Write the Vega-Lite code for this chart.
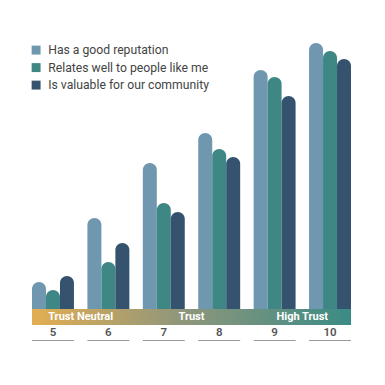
{
  "$schema": "https://vega.github.io/schema/vega-lite/v6.json",
  "autosize": {"type": "none"},
  "padding": {"left": 32, "top": 39, "right": 0, "bottom": 0},
  "width": 319,
  "height": 302,
  "background": "white",
  "config": {"view": {"stroke": null}, "font": "Roboto"},
  "datasets": {
    "bars": [
      {"score": "5", "series": "Has a good reputation", "value": 27},
      {"score": "5", "series": "Relates well to people like me", "value": 19},
      {"score": "5", "series": "Is valuable for our community", "value": 33},
      {"score": "6", "series": "Has a good reputation", "value": 91},
      {"score": "6", "series": "Relates well to people like me", "value": 47},
      {"score": "6", "series": "Is valuable for our community", "value": 66},
      {"score": "7", "series": "Has a good reputation", "value": 146},
      {"score": "7", "series": "Relates well to people like me", "value": 106},
      {"score": "7", "series": "Is valuable for our community", "value": 97},
      {"score": "8", "series": "Has a good reputation", "value": 176},
      {"score": "8", "series": "Relates well to people like me", "value": 160},
      {"score": "8", "series": "Is valuable for our community", "value": 152},
      {"score": "9", "series": "Has a good reputation", "value": 239},
      {"score": "9", "series": "Relates well to people like me", "value": 232},
      {"score": "9", "series": "Is valuable for our community", "value": 213},
      {"score": "10", "series": "Has a good reputation", "value": 266},
      {"score": "10", "series": "Relates well to people like me", "value": 258},
      {"score": "10", "series": "Is valuable for our community", "value": 250}
    ],
    "zones": [
      {"score": "5", "label": "Trust Neutral"},
      {"score": "7", "label": "Trust"},
      {"score": "9", "label": "High Trust"}
    ],
    "scores": [
      {"score": "5"}, {"score": "6"}, {"score": "7"}, {"score": "8"}, {"score": "9"}, {"score": "10"}
    ]
  },
  "layer": [
    {
      "data": {"name": "bars"},
      "mark": {"type": "bar", "cornerRadiusTopLeft": 7, "cornerRadiusTopRight": 7},
      "encoding": {
        "x": {
          "field": "score", "type": "ordinal",
          "scale": {"domain": ["5", "6", "7", "8", "9", "10"], "paddingInner": 0.243, "paddingOuter": 0},
          "axis": null
        },
        "xOffset": {"field": "series", "type": "nominal", "scale": {"domain": ["Has a good reputation", "Relates well to people like me", "Is valuable for our community"], "paddingInner": 0, "paddingOuter": 0}},
        "y": {"field": "value", "type": "quantitative", "scale": {"domain": [-32, 270], "nice": false, "zero": false}, "axis": null},
        "y2": {"datum": 0},
        "color": {
          "field": "series", "type": "nominal",
          "scale": {"domain": ["Has a good reputation", "Relates well to people like me", "Is valuable for our community"], "range": ["#6F97AF", "#3F8784", "#35536F"]},
          "legend": {
            "title": null, "orient": "none", "legendX": -2, "legendY": 5,
            "symbolType": "square", "symbolSize": 80, "symbolStrokeWidth": 0, "symbolOpacity": 1,
            "labelFontSize": 12.2, "labelColor": "#444444", "labelFont": "Roboto", "labelLimit": 0,
            "rowPadding": 4.5, "labelOffset": 6
          }
        }
      }
    },
    {
      "data": {"values": [{"a": 1}]},
      "mark": {
        "type": "rect",
        "fill": {"x1": 0, "y1": 0, "x2": 1, "y2": 0, "gradient": "linear", "stops": [
          {"offset": 0, "color": "#E3AE52"},
          {"offset": 0.45, "color": "#92977A"},
          {"offset": 1, "color": "#3A8B86"}
        ]}
      },
      "encoding": {
        "x": {"datum": "5", "type": "ordinal", "bandPosition": 0},
        "x2": {"datum": "10", "bandPosition": 1},
        "y": {"datum": 0, "type": "quantitative"},
        "y2": {"datum": -16}
      }
    },
    {
      "data": {"name": "zones"},
      "mark": {"type": "text", "color": "white", "fontWeight": "bold", "fontSize": 11, "font": "Roboto", "baseline": "middle"},
      "encoding": {
        "x": {"field": "score", "type": "ordinal", "bandPosition": 1.16},
        "y": {"datum": -8, "type": "quantitative"},
        "text": {"field": "label"}
      }
    },
    {
      "data": {"name": "scores"},
      "mark": {"type": "text", "color": "#555555", "fontWeight": 600, "fontSize": 11.5, "font": "Roboto", "baseline": "middle"},
      "encoding": {
        "x": {"field": "score", "type": "ordinal"},
        "y": {"datum": -24, "type": "quantitative"},
        "text": {"field": "score"}
      }
    },
    {
      "data": {"name": "scores"},
      "mark": {"type": "rule", "color": "#9A9A9A", "strokeWidth": 2},
      "encoding": {
        "x": {"field": "score", "type": "ordinal", "bandPosition": 0},
        "x2": {"field": "score", "bandPosition": 1},
        "y": {"datum": -32, "type": "quantitative"}
      }
    }
  ]
}
